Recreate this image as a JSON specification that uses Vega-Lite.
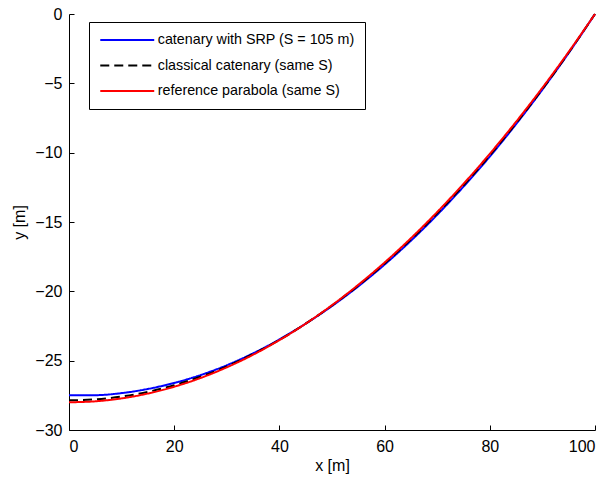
{
  "$schema": "https://vega.github.io/schema/vega-lite/v6.json",
  "width": 526,
  "height": 416,
  "autosize": {"type": "none"},
  "padding": {"left": 69, "top": 14, "right": 16, "bottom": 49},
  "background": "white",
  "config": {
    "font": "Liberation Sans",
    "view": {"stroke": null},
    "axis": {
      "grid": false,
      "domainColor": "black",
      "tickColor": "black",
      "labelColor": "black",
      "titleColor": "black",
      "labelFontSize": 16,
      "titleFontSize": 16,
      "titleFontWeight": "normal",
      "domainWidth": 1,
      "tickWidth": 1
    },
    "legend": {
      "orient": "none",
      "legendX": 20,
      "legendY": 8,
      "strokeColor": "black",
      "strokeWidth": 1,
      "fillColor": "white",
      "padding": 10,
      "symbolType": "M-4,0H4",
      "symbolSize": 182,
      "symbolOffset": 20.25,
      "symbolStrokeWidth": 2,
      "labelFontSize": 14.3,
      "labelColor": "black",
      "labelLimit": 400,
      "rowPadding": 9.5,
      "labelOffset": 22.5
    }
  },
  "data": {
    "values": [
      {"series": "catenary with SRP (S = 105 m)", "x": 0, "y": -27.5},
      {"series": "catenary with SRP (S = 105 m)", "x": 5, "y": -27.49},
      {"series": "catenary with SRP (S = 105 m)", "x": 10, "y": -27.34},
      {"series": "catenary with SRP (S = 105 m)", "x": 15, "y": -27.04},
      {"series": "catenary with SRP (S = 105 m)", "x": 20, "y": -26.61},
      {"series": "catenary with SRP (S = 105 m)", "x": 25, "y": -26.04},
      {"series": "catenary with SRP (S = 105 m)", "x": 30, "y": -25.33},
      {"series": "catenary with SRP (S = 105 m)", "x": 35, "y": -24.47},
      {"series": "catenary with SRP (S = 105 m)", "x": 40, "y": -23.47},
      {"series": "catenary with SRP (S = 105 m)", "x": 45, "y": -22.33},
      {"series": "catenary with SRP (S = 105 m)", "x": 50, "y": -21.06},
      {"series": "catenary with SRP (S = 105 m)", "x": 55, "y": -19.64},
      {"series": "catenary with SRP (S = 105 m)", "x": 60, "y": -18.07},
      {"series": "catenary with SRP (S = 105 m)", "x": 65, "y": -16.35},
      {"series": "catenary with SRP (S = 105 m)", "x": 70, "y": -14.48},
      {"series": "catenary with SRP (S = 105 m)", "x": 75, "y": -12.45},
      {"series": "catenary with SRP (S = 105 m)", "x": 80, "y": -10.28},
      {"series": "catenary with SRP (S = 105 m)", "x": 85, "y": -7.94},
      {"series": "catenary with SRP (S = 105 m)", "x": 90, "y": -5.45},
      {"series": "catenary with SRP (S = 105 m)", "x": 95, "y": -2.81},
      {"series": "catenary with SRP (S = 105 m)", "x": 100, "y": 0},
      {"series": "classical catenary (same S)", "x": 0, "y": -27.86},
      {"series": "classical catenary (same S)", "x": 5, "y": -27.79},
      {"series": "classical catenary (same S)", "x": 10, "y": -27.59},
      {"series": "classical catenary (same S)", "x": 15, "y": -27.25},
      {"series": "classical catenary (same S)", "x": 20, "y": -26.77},
      {"series": "classical catenary (same S)", "x": 25, "y": -26.16},
      {"series": "classical catenary (same S)", "x": 30, "y": -25.41},
      {"series": "classical catenary (same S)", "x": 35, "y": -24.52},
      {"series": "classical catenary (same S)", "x": 40, "y": -23.5},
      {"series": "classical catenary (same S)", "x": 45, "y": -22.33},
      {"series": "classical catenary (same S)", "x": 50, "y": -21.02},
      {"series": "classical catenary (same S)", "x": 55, "y": -19.58},
      {"series": "classical catenary (same S)", "x": 60, "y": -17.99},
      {"series": "classical catenary (same S)", "x": 65, "y": -16.26},
      {"series": "classical catenary (same S)", "x": 70, "y": -14.38},
      {"series": "classical catenary (same S)", "x": 75, "y": -12.36},
      {"series": "classical catenary (same S)", "x": 80, "y": -10.19},
      {"series": "classical catenary (same S)", "x": 85, "y": -7.87},
      {"series": "classical catenary (same S)", "x": 90, "y": -5.41},
      {"series": "classical catenary (same S)", "x": 95, "y": -2.78},
      {"series": "classical catenary (same S)", "x": 100, "y": 0},
      {"series": "reference parabola (same S)", "x": 0, "y": -28},
      {"series": "reference parabola (same S)", "x": 5, "y": -27.93},
      {"series": "reference parabola (same S)", "x": 10, "y": -27.72},
      {"series": "reference parabola (same S)", "x": 15, "y": -27.37},
      {"series": "reference parabola (same S)", "x": 20, "y": -26.88},
      {"series": "reference parabola (same S)", "x": 25, "y": -26.25},
      {"series": "reference parabola (same S)", "x": 30, "y": -25.48},
      {"series": "reference parabola (same S)", "x": 35, "y": -24.57},
      {"series": "reference parabola (same S)", "x": 40, "y": -23.52},
      {"series": "reference parabola (same S)", "x": 45, "y": -22.33},
      {"series": "reference parabola (same S)", "x": 50, "y": -21},
      {"series": "reference parabola (same S)", "x": 55, "y": -19.53},
      {"series": "reference parabola (same S)", "x": 60, "y": -17.92},
      {"series": "reference parabola (same S)", "x": 65, "y": -16.17},
      {"series": "reference parabola (same S)", "x": 70, "y": -14.28},
      {"series": "reference parabola (same S)", "x": 75, "y": -12.25},
      {"series": "reference parabola (same S)", "x": 80, "y": -10.08},
      {"series": "reference parabola (same S)", "x": 85, "y": -7.77},
      {"series": "reference parabola (same S)", "x": 90, "y": -5.32},
      {"series": "reference parabola (same S)", "x": 95, "y": -2.73},
      {"series": "reference parabola (same S)", "x": 100, "y": 0}
    ]
  },
  "layer": [
    {
      "mark": {"type": "line", "strokeWidth": 2, "interpolate": "monotone"},
      "encoding": {
        "x": {
          "field": "x",
          "type": "quantitative",
          "scale": {"domain": [0, 100], "nice": false},
          "axis": {"orient": "bottom", "values": [0, 20, 40, 60, 80, 100], "title": "x [m]", "ticks": false, "labelPadding": 8, "titlePadding": 3}
        },
        "y": {
          "field": "y",
          "type": "quantitative",
          "scale": {"domain": [-30, 0], "nice": false},
          "axis": {"orient": "left", "values": [-30, -25, -20, -15, -10, -5, 0], "title": "y [m]", "ticks": false, "labelPadding": 7, "titlePadding": 7}
        },
        "color": {
          "field": "series",
          "type": "nominal",
          "scale": {
            "domain": ["catenary with SRP (S = 105 m)", "classical catenary (same S)", "reference parabola (same S)"],
            "range": ["#0000ff", "#000000", "#ff0000"]
          },
          "legend": {"title": null}
        },
        "strokeDash": {
          "field": "series",
          "type": "nominal",
          "scale": {
            "domain": ["catenary with SRP (S = 105 m)", "classical catenary (same S)", "reference parabola (same S)"],
            "range": [[1, 0], [9, 5], [1, 0]]
          },
          "legend": {"title": null}
        }
      }
    },
    {
      "mark": {"type": "line", "opacity": 0},
      "encoding": {
        "x": {
          "field": "x",
          "type": "quantitative",
          "axis": {"orient": "top", "offset": -416, "values": [0, 20, 40, 60, 80, 100], "title": null, "labels": false, "domain": false, "ticks": true, "tickSize": 5, "tickColor": "black", "tickWidth": 1}
        },
        "y": {
          "field": "y",
          "type": "quantitative",
          "axis": {"orient": "right", "offset": -526, "values": [-30, -25, -20, -15, -10, -5, 0], "title": null, "labels": false, "domain": false, "ticks": true, "tickSize": 5, "tickColor": "black", "tickWidth": 1}
        },
        "detail": {"field": "series", "type": "nominal"}
      }
    }
  ],
  "resolve": {"axis": {"x": "independent", "y": "independent"}}
}
